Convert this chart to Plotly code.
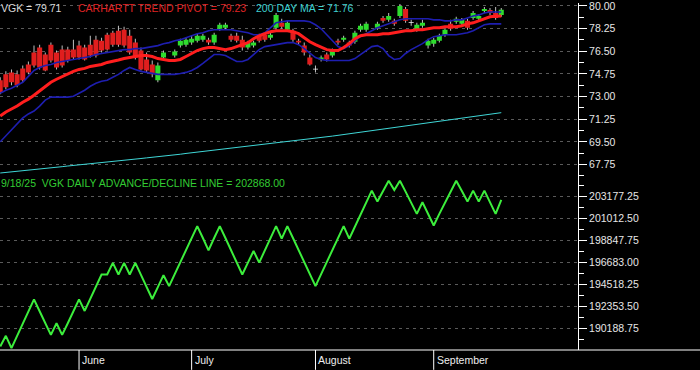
import plotly.graph_objects as go
import pandas as pd

# ---------------- data ----------------
HOLIDAYS = ["2025-05-26", "2025-06-19", "2025-07-04", "2025-09-01"]
dates = [d for d in pd.bdate_range("2025-05-12", "2025-09-18")
         if d.strftime("%Y-%m-%d") not in HOLIDAYS]

open_ = [74.26, 74.72, 74.87, 74.72, 75.18, 75.48, 76.40, 76.79, 76.25, 77.01,
         76.40, 76.63, 76.63, 76.63, 76.94, 76.79, 77.01, 77.40, 77.32, 77.78,
         77.93, 78.09, 78.16, 77.70, 77.17, 76.56, 75.87, 75.48, 74.26, 76.02,
         75.80, 76.17, 76.94, 77.01, 77.17, 77.32, 77.40, 77.40, 77.17, 78.24,
         78.32, 77.70, 77.70, 77.40, 76.79, 76.94, 77.70, 77.78, 77.55, 78.32,
         78.70, 78.16, 78.09, 77.32, 76.94, 76.02, 75.10, 75.87, 76.25, 76.17,
         77.32, 77.40, 77.17, 77.24, 78.16, 78.16, 77.76, 78.32, 79.08, 78.93,
         78.85, 79.23, 79.77, 78.70, 78.16, 78.47, 76.94, 77.09, 77.32, 77.78,
         78.62, 78.78, 78.62, 78.85, 79.08, 79.01, 79.62, 79.69, 79.46, 79.31]
high = [74.49, 74.95, 75.10, 75.02, 75.41, 75.71, 76.94, 77.01, 76.40, 77.17,
        76.56, 76.94, 76.86, 77.40, 77.32, 77.01, 77.70, 77.70, 77.55, 77.93,
        78.09, 78.47, 78.39, 78.16, 77.47, 76.79, 76.40, 75.79, 75.64, 76.56,
        75.90, 76.63, 77.47, 77.55, 77.70, 77.86, 77.86, 77.55, 77.93, 78.70,
        78.70, 77.86, 77.93, 77.70, 77.32, 77.32, 77.86, 77.93, 77.93, 79.46,
        79.01, 78.85, 78.24, 77.47, 77.17, 76.25, 75.41, 76.17, 76.40, 76.71,
        77.47, 77.70, 77.32, 78.09, 78.62, 78.78, 77.86, 78.78, 79.23, 79.46,
        79.01, 80.15, 79.92, 78.93, 78.70, 78.93, 77.47, 77.55, 77.86, 78.32,
        78.93, 79.16, 79.08, 79.01, 79.62, 79.39, 79.92, 79.85, 79.92, 79.85]
low = [73.19, 73.57, 73.88, 73.72, 74.11, 74.72, 75.25, 75.10, 74.95, 75.64,
       75.10, 75.25, 75.64, 75.87, 75.87, 75.79, 76.02, 76.02, 76.40, 76.56,
       76.86, 76.86, 76.79, 76.25, 75.87, 75.02, 74.87, 74.49, 74.11, 75.87,
       75.76, 76.02, 76.79, 76.86, 77.01, 77.17, 77.24, 77.01, 77.01, 78.09,
       78.16, 77.24, 77.17, 76.56, 76.63, 76.79, 77.17, 77.24, 77.40, 78.16,
       78.24, 78.00, 77.24, 77.01, 76.17, 75.41, 74.87, 75.71, 75.71, 76.02,
       77.01, 77.24, 76.79, 77.09, 78.00, 78.00, 77.72, 78.16, 78.70, 78.78,
       78.47, 79.08, 78.70, 78.47, 78.00, 78.32, 76.71, 76.86, 77.17, 77.63,
       78.09, 78.62, 78.47, 78.16, 78.93, 78.85, 79.46, 79.31, 78.93, 79.16]
close = [73.34, 73.72, 74.11, 73.88, 74.26, 74.87, 75.41, 75.25, 75.02, 75.79,
         75.25, 75.41, 75.79, 76.02, 76.02, 75.87, 76.17, 76.17, 76.56, 76.63,
         77.01, 77.01, 76.94, 76.40, 76.02, 75.10, 75.02, 74.72, 75.41, 76.40,
         75.86, 76.48, 77.32, 77.40, 77.47, 77.70, 77.70, 77.17, 77.78, 78.55,
         78.55, 77.40, 77.32, 76.79, 77.17, 77.17, 77.32, 77.40, 77.78, 79.31,
         78.39, 78.70, 77.40, 77.17, 76.40, 75.48, 75.10, 76.02, 75.87, 76.56,
         77.17, 77.55, 76.94, 77.93, 78.47, 78.62, 77.82, 78.62, 78.85, 79.23,
         78.62, 80.00, 78.85, 78.70, 78.55, 78.70, 77.32, 77.40, 77.70, 78.16,
         78.24, 79.01, 78.93, 78.32, 79.46, 79.23, 79.77, 79.46, 79.08, 79.71]

pivot = [71.50, 71.81, 72.04, 72.27, 72.57, 72.80, 73.11, 73.42, 73.80, 74.11,
         74.34, 74.56, 74.79, 74.95, 75.10, 75.18, 75.33, 75.41, 75.48, 75.64,
         75.71, 75.83, 75.94, 76.02, 76.10, 76.17, 76.17, 76.10, 75.94, 75.87,
         75.79, 75.79, 75.87, 76.10, 76.33, 76.56, 76.71, 76.79, 76.79, 76.71,
         76.63, 76.71, 76.86, 77.01, 77.17, 77.47, 77.70, 77.86, 78.01, 78.09,
         78.09, 78.09, 78.01, 77.86, 77.55, 77.24, 77.01, 76.79, 76.63, 76.56,
         76.56, 76.79, 77.09, 77.47, 77.70, 77.78, 77.78, 77.78, 77.86, 77.86,
         77.93, 78.01, 78.09, 78.09, 78.16, 78.16, 78.24, 78.32, 78.32, 78.39,
         78.39, 78.39, 78.47, 78.62, 78.70, 78.85, 79.01, 79.16, 79.20, 79.23]

band_upper = [73.26, 73.49, 73.65, 73.88, 74.11, 74.56, 75.02, 75.25, 75.41, 75.48,
              75.64, 75.71, 75.79, 75.87, 75.94, 76.02, 76.10, 76.25, 76.33, 76.40,
              76.48, 76.56, 76.63, 76.63, 76.71, 76.71, 76.79, 76.86, 76.94, 77.09,
              77.17, 77.32, 77.40, 77.55, 77.70, 77.86, 77.93, 78.09, 78.16, 78.16,
              78.16, 78.16, 78.09, 78.01, 77.93, 77.78, 77.78, 77.93, 78.32, 78.70,
              78.78, 78.85, 78.85, 78.85, 78.85, 78.78, 78.55, 78.24, 77.78, 77.32,
              76.86, 76.71, 76.94, 77.32, 77.63, 77.86, 78.09, 78.32, 78.47, 78.62,
              78.78, 78.93, 79.01, 79.01, 79.01, 79.01, 79.01, 78.93, 78.93, 78.85,
              78.85, 78.93, 78.93, 79.08, 79.23, 79.31, 79.46, 79.54, 79.54, 79.54]
band_lower = [69.51, 69.97, 70.43, 70.89, 71.35, 71.66, 71.89, 72.27, 72.73, 72.96,
              72.96, 72.96, 72.96, 73.03, 73.26, 73.49, 73.80, 74.03, 74.18, 74.26,
              74.49, 74.72, 75.02, 75.25, 75.10, 74.95, 74.87, 74.79, 74.72, 74.72,
              74.72, 74.72, 74.79, 74.87, 75.02, 75.25, 75.56, 75.94, 76.25, 76.25,
              76.17, 75.94, 75.71, 75.71, 75.87, 76.25, 76.63, 76.86, 76.94, 77.01,
              77.09, 77.17, 77.17, 77.01, 76.71, 76.40, 76.02, 75.87, 75.79, 75.79,
              75.79, 75.79, 75.79, 75.94, 76.25, 76.56, 76.86, 76.94, 76.71, 76.17,
              75.87, 75.94, 76.33, 76.63, 76.86, 77.09, 77.40, 77.63, 77.70, 77.78,
              77.78, 77.78, 77.86, 77.93, 78.09, 78.32, 78.55, 78.62, 78.62, 78.62]

ma200 = [67.10, 67.14, 67.19, 67.23, 67.28, 67.32, 67.37, 67.41, 67.46, 67.50,
         67.55, 67.59, 67.64, 67.68, 67.73, 67.77, 67.82, 67.86, 67.91, 67.95,
         68.00, 68.04, 68.09, 68.13, 68.18, 68.22, 68.27, 68.31, 68.36, 68.40,
         68.45, 68.50, 68.55, 68.61, 68.66, 68.71, 68.76, 68.81, 68.86, 68.92,
         68.97, 69.02, 69.07, 69.12, 69.17, 69.23, 69.28, 69.33, 69.38, 69.43,
         69.49, 69.54, 69.59, 69.64, 69.69, 69.75, 69.80, 69.85, 69.90, 69.95,
         70.01, 70.07, 70.13, 70.19, 70.25, 70.31, 70.37, 70.43, 70.49, 70.55,
         70.61, 70.67, 70.73, 70.79, 70.85, 70.91, 70.97, 71.03, 71.09, 71.15,
         71.21, 71.27, 71.33, 71.39, 71.45, 71.51, 71.57, 71.63, 71.69, 71.76]

ad_line = [188389, 189436, 188226, 189436, 190614, 191825, 193035, 191857, 190679, 189534,
           190679, 189534, 190679, 191857, 193035, 191890, 193100, 194278, 195489, 195489,
           196634, 195489, 196634, 195489, 196634, 195456, 194278, 193068, 194246, 195423,
           194344, 195522, 196699, 197877, 199088, 200265, 199088, 197877, 199088, 200265,
           199088, 197877, 196667, 195489, 196667, 197812, 196667, 197877, 199088, 200265,
           199022, 200265, 199088, 197877, 196699, 195522, 194344, 195522, 196699, 197877,
           199088, 200265, 199022, 200233, 201411, 202588, 203766, 202687, 203734, 204748,
           203832, 204748, 203668, 202588, 201476, 202621, 201476, 200330, 201476, 202588,
           203668, 204748, 203734, 202687, 203766, 202687, 203766, 202621, 201476, 202868]

# ---------------- styling ----------------
FONT = "Liberation Sans, Arial, sans-serif"
RED = "#E01E1E"
GREEN = "#2EDC2E"
WHITE = "#F0F0F0"
GRID = "#5A5A5A"
PLOT_W = 578
PLOT_H = 350

n = len(dates)
x = list(range(n))
body_base = [min(o, c) for o, c in zip(open_, close)]
body_h = [max(abs(c - o), 0.06) for o, c in zip(open_, close)]
body_col = [GREEN if c > o else (RED if c < o else WHITE) for o, c in zip(open_, close)]
wick_h = [h - l for h, l in zip(high, low)]

fig = go.Figure()
fig.add_trace(go.Bar(x=x, y=wick_h, base=low, width=0.18, marker=dict(color="#BDBDBD", line_width=0),
                     yaxis="y", hoverinfo="skip"))
fig.add_trace(go.Bar(x=x, y=body_h, base=body_base, width=0.9, marker=dict(color=body_col, line_width=0),
                     yaxis="y", hoverinfo="skip"))
fig.add_trace(go.Scatter(x=x, y=ma200, mode="lines", line=dict(color="#3FD6D6", width=1), yaxis="y"))
fig.add_trace(go.Scatter(x=x, y=band_upper, mode="lines", line=dict(color="#1E1EB0", width=1.6), yaxis="y"))
fig.add_trace(go.Scatter(x=x, y=band_lower, mode="lines", line=dict(color="#1E1EB0", width=1.6), yaxis="y"))
fig.add_trace(go.Scatter(x=x, y=pivot, mode="lines", line=dict(color="#FF1E1E", width=3), yaxis="y"))
fig.add_trace(go.Scatter(x=x, y=ad_line, mode="lines", line=dict(color="#3CEE3C", width=2), yaxis="y2"))

axis_common = dict(
    side="right", anchor="x", showline=True, linecolor="white", linewidth=1,
    ticks="outside", ticklen=8, tickcolor="white", tickwidth=1, ticklabeloverflow="allow",
    tickformat=".2f", tickfont=dict(color="#E6E6E6", size=10.5, family=FONT),
    showgrid=True, gridcolor=GRID, gridwidth=1, griddash="3px,4px", zeroline=False,
)
fig.update_layout(
    width=700, height=370,
    margin=dict(l=0, r=700 - PLOT_W, t=0, b=370 - PLOT_H),
    paper_bgcolor="black", plot_bgcolor="black",
    showlegend=False, barmode="overlay", hovermode=False,
    xaxis=dict(range=[-0.04, 102.63], showgrid=False, showticklabels=False, zeroline=False,
               showline=False, ticks=""),
    yaxis=dict(domain=[0.5, 1], range=[66.83, 80.23], tick0=67.75, dtick=1.75,
               minor=dict(tick0=67.75, dtick=0.875, ticklen=5, tickcolor="white", ticks="outside", showgrid=False),
               **axis_common),
    yaxis2=dict(domain=[0, 0.5], range=[188035, 205164], tick0=190188.75, dtick=2164.75,
                minor=dict(tick0=190188.75, dtick=1082.375, ticklen=5, tickcolor="white", ticks="outside", showgrid=False),
                **axis_common),
)

def py(px):
    return 1 - px / PLOT_H

last = dates[-1]
annotations = [
    dict(text=f"VGK = {close[-1]:.2f}", x=0, y=py(5.5), color="#DADADA"),
    dict(text=f"CARHARTT TREND PIVOT = {pivot[-1]:.2f}", x=77 / PLOT_W, y=py(5.5), color="#E02424"),
    dict(text=f"200 DAY MA = {ma200[-1]:.2f}", x=255 / PLOT_W, y=py(5.5), color="#3FD2D2"),
    dict(text=f"{last.month}/{last.day}/{last:%y}  VGK DAILY ADVANCE/DECLINE LINE = {ad_line[-1]:.2f}",
         x=0, y=py(181.3), color="#33CC33"),
]
for a in annotations:
    fig.add_annotation(text=a["text"], xref="paper", yref="paper", x=a["x"], y=a["y"],
                       xanchor="left", yanchor="middle", showarrow=False, xshift=-1,
                       font=dict(color=a["color"], size=10.5, family=FONT))

month_starts = [i for i in range(1, n) if dates[i].month != dates[i - 1].month]
for i in month_starts:
    fig.add_shape(type="line", xref="x", yref="paper", x0=i, x1=i, y0=0, y1=-20 / PLOT_H,
                  line=dict(color="white", width=1))
    fig.add_annotation(text=dates[i].strftime("%B"), xref="x", yref="paper", x=i, y=-10 / PLOT_H,
                       xanchor="left", yanchor="middle", showarrow=False, xshift=1,
                       font=dict(color="#EEEEEE", size=10.5, family=FONT))

fig.add_shape(type="line", xref="paper", yref="paper", x0=0, x1=700 / PLOT_W, y0=0, y1=0,
              line=dict(color="white", width=1))

fig.write_html("out.html", config={"displayModeBar": False, "staticPlot": True},
               post_script="document.body.style.margin='0';document.body.style.padding='0';"
                           "document.body.style.background='black';document.body.style.overflow='hidden';")
